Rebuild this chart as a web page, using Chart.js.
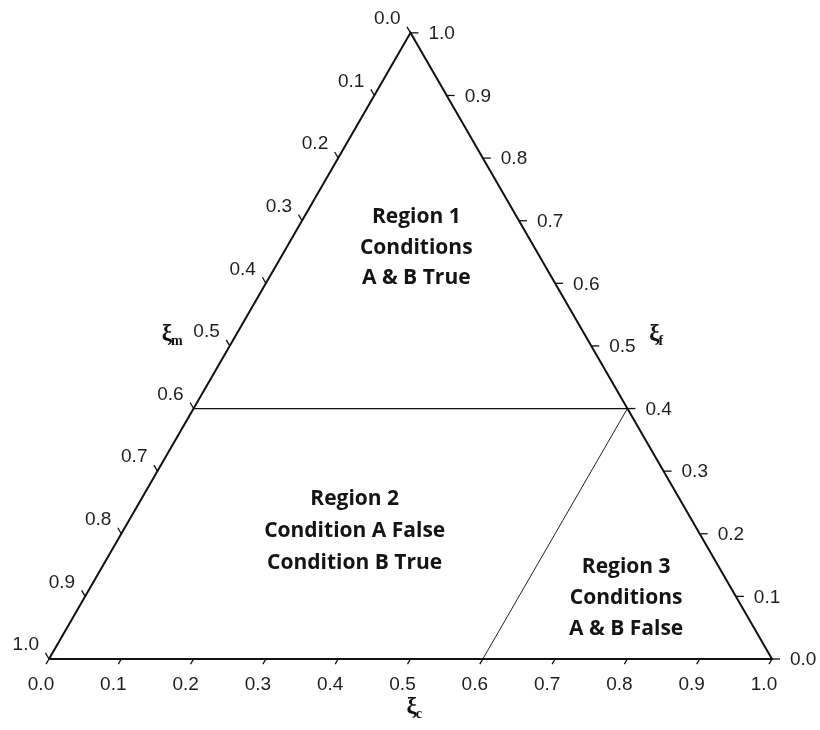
<!DOCTYPE html>
<html>
<head>
<meta charset="utf-8">
<style>
  html, body { margin: 0; padding: 0; background: #ffffff; }
  #wrap { width: 820px; height: 730px; }
</style>
<script src="https://cdn.jsdelivr.net/npm/chart.js@4.4.1/dist/chart.umd.min.js"></script>
</head>
<body>
<div id="wrap"><canvas id="ternary" width="820" height="730"></canvas></div>
<script>
// Ternary diagram of the three fractions: ξc (bottom), ξf (right), ξm (left).
const tickValues = [0.0, 0.1, 0.2, 0.3, 0.4, 0.5, 0.6, 0.7, 0.8, 0.9, 1.0];
const tickLabels = ['0.0', '0.1', '0.2', '0.3', '0.4', '0.5', '0.6', '0.7', '0.8', '0.9', '1.0'];

// Boundaries between the regions
const fBoundary = 0.4;   // condition A: ξf above this value
const cBoundary = 0.6;   // condition B: ξc below this value

const region1Lines = ['Region 1', 'Conditions', 'A & B True'];
const region2Lines = ['Region 2', 'Condition A False', 'Condition B True'];
const region3Lines = ['Region 3', 'Conditions', 'A & B False'];

const SQ = Math.sqrt(3) / 2;
// ternary (ξc, ξf) -> cartesian point in the triangle plane
function tern(c, f) { return { x: c + f / 2, y: f * SQ }; }

const outline = [tern(0, 0), tern(1, 0), tern(0, 1), tern(0, 0)];
const fLine = [tern(0, fBoundary), tern(1 - fBoundary, fBoundary)];
const cLine = [tern(cBoundary, fBoundary), tern(cBoundary, 0)];

const UNIT = 723; // pixels per unit edge length
const OX = 49, OY = 659;

const ternaryDecor = {
  id: 'ternaryDecor',
  afterDatasetsDraw(chart) {
    const ctx = chart.ctx;
    const xs = chart.scales.x, ys = chart.scales.y;
    const P = (c, f) => {
      const q = tern(c, f);
      return { x: xs.getPixelForValue(q.x), y: ys.getPixelForValue(q.y) };
    };
    ctx.save();
    ctx.strokeStyle = '#111';
    ctx.lineWidth = 1.3;
    ctx.fillStyle = '#1e1e1e';
    ctx.font = '19px "Liberation Sans", Arial, sans-serif';

    tickValues.forEach((v, i) => {
      const lab = tickLabels[i];
      // bottom axis: ξc
      let p = P(v, 0);
      ctx.beginPath();
      ctx.moveTo(p.x, p.y);
      ctx.lineTo(p.x - 6 * 0.5, p.y + 6 * SQ);
      ctx.stroke();
      ctx.textAlign = 'center';
      ctx.textBaseline = 'middle';
      ctx.fillText(lab, p.x - 8, p.y + 26);

      // right axis: ξf
      p = P(1 - v, v);
      ctx.beginPath();
      ctx.moveTo(p.x, p.y);
      ctx.lineTo(p.x + 8, p.y);
      ctx.stroke();
      ctx.textAlign = 'left';
      ctx.fillText(lab, p.x + 18, p.y + 1);

      // left axis: ξm
      p = P(0, 1 - v);
      ctx.beginPath();
      ctx.moveTo(p.x, p.y);
      ctx.lineTo(p.x - 7 * 0.5, p.y - 7 * SQ);
      ctx.stroke();
      ctx.textAlign = 'right';
      ctx.fillText(lab, p.x - 10, p.y - 14);
    });

    // axis titles
    ctx.fillStyle = '#111';
    ctx.textAlign = 'left';
    ctx.textBaseline = 'alphabetic';
    const xi = (base, sub, x, y) => {
      ctx.font = 'bold 23px "Liberation Serif", "Times New Roman", serif';
      ctx.fillText(base, x, y);
      const w = ctx.measureText(base).width;
      ctx.font = 'bold 14px "Liberation Serif", "Times New Roman", serif';
      ctx.fillText(sub, x + w - 1, y + 5);
    };
    let a = P(0, 0.5);
    xi('ξ', 'm', a.x - 68, a.y - 6);
    a = P(0.5, 0.5);
    xi('ξ', 'f', a.x + 58, a.y - 6);
    a = P(0.5, 0);
    xi('ξ', 'c', a.x - 4, a.y + 54);

    // region captions
    ctx.fillStyle = '#141414';
    ctx.textAlign = 'center';
    ctx.textBaseline = 'middle';
    ctx.font = 'bold 21px "Open Sans", Lato, sans-serif';
    const caption = (lines, c, f, gap) => {
      const p = P(c, f);
      const start = p.y + 2 - gap * (lines.length - 1) / 2;
      lines.forEach((t, k) => ctx.fillText(t, p.x, start + k * gap));
    };
    caption(region1Lines, 0.178, 0.66, 30.5);
    caption(region2Lines, 0.319, 0.2076, 32);
    caption(region3Lines, 0.748, 0.1006, 31);
    ctx.restore();
  }
};

new Chart(document.getElementById('ternary'), {
  type: 'scatter',
  data: {
    datasets: [
      { data: outline, showLine: true, borderColor: '#111', borderWidth: 2, pointRadius: 0, clip: false, tension: 0 },
      { data: fLine, showLine: true, borderColor: '#111', borderWidth: 1.3, pointRadius: 0, clip: false },
      { data: cLine, showLine: true, borderColor: '#222', borderWidth: 1, pointRadius: 0, clip: false }
    ]
  },
  options: {
    responsive: false,
    devicePixelRatio: 1,
    animation: false,
    layout: { padding: 0 },
    plugins: { legend: { display: false }, tooltip: { enabled: false } },
    scales: {
      x: { type: 'linear', display: false, min: -OX / UNIT, max: (820 - OX) / UNIT },
      y: { type: 'linear', display: false, min: -(730 - OY) / UNIT, max: OY / UNIT }
    }
  },
  plugins: [ternaryDecor]
});
</script>
</body>
</html>
